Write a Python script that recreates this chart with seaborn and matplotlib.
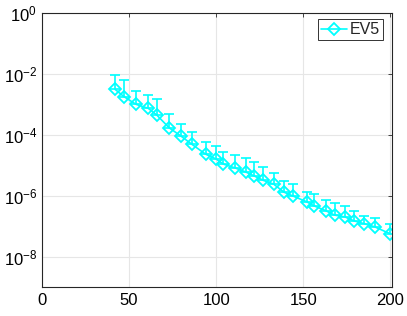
"""EV5 error decay on a log scale."""

import matplotlib
matplotlib.use('Agg')
import matplotlib.pyplot as plt
import pandas as pd
import seaborn as sns
from matplotlib.ticker import LogLocator, NullLocator

# values
n_vals = [42, 47, 54, 61, 66, 73, 80, 86, 94, 100, 104, 111, 117, 122, 127,
          133, 139, 144, 152, 156, 163, 168, 174, 179, 185, 191, 200]
err_mean = [3.1e-3, 1.8e-3, 1.0e-3, 7.4e-4, 4.4e-4, 1.7e-4, 8.9e-5, 4.9e-5,
            2.3e-5, 1.6e-5, 1.1e-5, 8.1e-6, 6.0e-6, 4.4e-6, 3.2e-6, 2.4e-6,
            1.3e-6, 9.8e-7, 6.3e-7, 4.7e-7, 3.2e-7, 2.3e-7, 2.0e-7, 1.5e-7,
            1.2e-7, 9.5e-8, 5.6e-8]
err_upper = [9.5e-3, 6.5e-3, 2.8e-3, 2.1e-3, 1.5e-3, 4.7e-4, 2.2e-4, 1.2e-4,
             5.8e-5, 4.2e-5, 2.7e-5, 2.1e-5, 1.7e-5, 1.3e-5, 8.7e-6, 5.5e-6,
             3.0e-6, 2.4e-6, 1.3e-6, 1.1e-6, 7.2e-7, 5.8e-7, 4.7e-7, 3.2e-7,
             2.2e-7, 1.9e-7, 1.2e-7]
label = 'EV5'
color = '#00FFFF'

sns.set_style('whitegrid')
plt.rcParams['font.family'] = ['Liberation Sans', 'DejaVu Sans']
plt.rcParams['mathtext.default'] = 'regular'
plt.rcParams['axes.unicode_minus'] = False

df = pd.DataFrame({'n': n_vals, 'err': err_mean, 'up': err_upper})

fig = plt.figure(figsize=(4.07, 3.16), dpi=100)
ax = fig.add_axes([42 / 407, 29 / 316, 350 / 407, 274 / 316])

# upper error bars only (lower ones fall below zero on the log scale)
ax.errorbar(df['n'], df['err'], yerr=[[0] * len(df), df['up'] - df['err']],
            fmt='none', ecolor=color, elinewidth=1.2, capsize=3.5, capthick=1.2)
sns.lineplot(data=df, x='n', y='err', ax=ax, color=color, linewidth=1.2,
             marker='D', markersize=6.5, markerfacecolor='none',
             markeredgecolor=color, markeredgewidth=1.3, label=label)

ax.set_yscale('log')
ax.set_xlim(0, 201)
ax.set_ylim(1e-9, 1e0)
ax.set_xticks([0, 50, 100, 150, 200])
ax.yaxis.set_major_locator(LogLocator(base=100.0, numticks=10))
ax.yaxis.set_minor_locator(NullLocator())
ax.xaxis.label.set_visible(False)
ax.yaxis.label.set_visible(False)

ax.grid(True, color='#e6e6e6', linewidth=0.8)
for side in ax.spines.values():
    side.set_color('#262626')
    side.set_linewidth(0.8)
ax.tick_params(axis='both', direction='in', length=3, width=0.6, colors='#262626',
               labelsize=12, labelcolor='black', top=True, right=True)
ax.tick_params(axis='x', pad=4)

leg = ax.legend(loc='upper right', fontsize=11.5, frameon=True, fancybox=False,
                borderaxespad=0.0, handlelength=1.6, handletextpad=0.2,
                borderpad=0.2, bbox_to_anchor=(0.975, 0.978))
leg.get_frame().set_edgecolor('black')
leg.get_frame().set_linewidth(0.7)

fig.savefig('out.png', dpi=100)
